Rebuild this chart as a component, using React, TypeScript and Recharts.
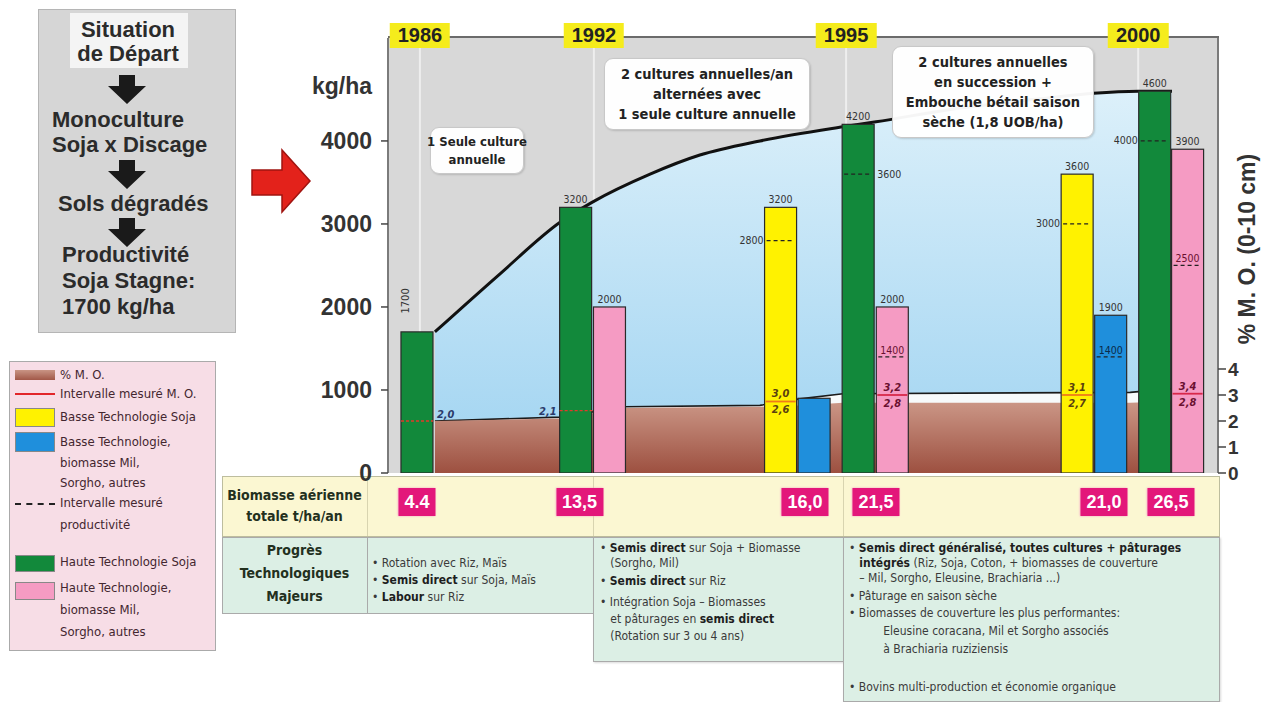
import React from 'react';
import { ComposedChart, Bar, Area, XAxis, YAxis, CartesianGrid } from 'recharts';

// ---------------- DATA ----------------
// period headers and their position on the horizontal "slot" axis (0..26)
const periodYears = ['1986', '1992', '1995', '2000'];
const periodSlots = [1.0, 6.45, 14.35, 23.5];

// bars (kg/ha)
const barSlots = [0.92, 5.89, 6.95, 12.31, 13.36, 14.74, 15.81, 21.6, 22.65, 24.03, 25.06];
const barKinds = ['hts', 'hts', 'htb', 'bts', 'btb', 'hts', 'htb', 'bts', 'btb', 'hts', 'htb'];
const barValues = [1700, 3200, 2000, 3200, 900, 4200, 2000, 3600, 1900, 4600, 3900];
const barTopLabels = ['1700', '3200', '2000', '3200', '', '4200', '2000', '3600', '1900', '4600', '3900'];
// productivity interval (lower measured value, kg/ha)
const barProdLow: (number | null)[] = [null, null, null, 2800, null, 3600, 1400, 3000, 1400, 4000, 2500];
// organic matter (% M.O.) measured inside each bar
const barMoHigh: (number | null)[] = [2.0, 2.1, null, 3.0, null, null, 3.2, 3.1, null, null, 3.4];
const barMoLow: (number | null)[] = [null, null, null, 2.6, null, null, 2.8, 2.7, null, null, 2.8];
const barMoLine: (number | null)[] = [2.0, 2.4, null, 2.75, null, null, 3.0, 3.0, null, null, 3.05];

// yield trend curve (kg/ha)
const trendSlots = [1.47, 3.51, 5.39, 6.39, 8.21, 9.77, 11.65, 14.25, 15.29, 17.61, 20.74, 22.1, 23.5, 24.56];
const trendKg = [1700, 2400, 3020, 3260, 3600, 3830, 4000, 4170, 4230, 4380, 4520, 4575, 4600, 4600];

// soil organic matter (% M.O. 0-10 cm): measured low and high
const moSlots = [1.47, 5.39, 7.42, 11.65, 12.9, 14.25, 23.25, 25.53];
const moLowVals = [2.0, 2.1, 2.5, 2.55, 2.6, 2.7, 2.7, 2.8];
const moHighVals = [2.0, 2.15, 2.55, 2.6, 2.85, 3.05, 3.1, 3.35];

// biomass row (t/ha/an)
const biomassLabels = ['4.4', '13,5', '16,0', '21,5', '21,0', '26,5'];
const biomassSlots = [0.91, 6.0, 13.06, 15.29, 22.43, 24.53];

const kgTicks = [0, 1000, 2000, 3000, 4000];
const moTicks = [0, 1, 2, 3, 4];

// ---------------- STYLE / LAYOUT ----------------
const KG_MAX = 5240;
const MO_MAX = 16.73;
const SLOT_MAX = 26;
const BAR_W = 32;
const PLOT_X0 = 388;
const PLOT_W = 830;
const px = (slot: number) => PLOT_X0 + (slot / SLOT_MAX) * PLOT_W;

const SANS = '"Liberation Sans", Arial, Helvetica, sans-serif';
const NARROW = '"Liberation Sans Narrow", "DejaVu Sans Condensed", "Arial Narrow", "Liberation Sans", sans-serif';

const KIND_STYLE: Record<string, { fill: string; line: string; text: string }> = {
  hts: { fill: '#12893b', line: '#e23a2a', text: '#2a3a5a' },
  htb: { fill: '#f59bc3', line: '#d8284a', text: '#6a1030' },
  bts: { fill: '#fff200', line: '#f07a1a', text: '#5a4010' },
  btb: { fill: '#1f8fdc', line: '#1f8fdc', text: '#0a2a4a' },
};
const PROD_SIDE = ['', '', '', 'left', '', 'right', 'inside', 'left', 'inside', 'left', 'inside'];
const MO_SIDE = ['right', 'left', '', 'inside', '', '', 'inside', 'inside', '', '', 'inside'];

type Row = { pos: number; kg?: number; idx?: number; trend?: number; moLow?: number; moHigh?: number };
const rowMap = new Map<number, Row>();
const getRow = (pos: number) => {
  if (!rowMap.has(pos)) rowMap.set(pos, { pos });
  return rowMap.get(pos) as Row;
};
barSlots.forEach((p, i) => { const r = getRow(p); r.kg = barValues[i]; r.idx = i; });
trendSlots.forEach((p, i) => { getRow(p).trend = trendKg[i]; });
moSlots.forEach((p, i) => { const r = getRow(p); r.moLow = moLowVals[i]; r.moHigh = moHighVals[i]; });
const rows = Array.from(rowMap.values()).sort((a, b) => a.pos - b.pos);

function BarShape(props: any) {
  const { x, y, width, height, payload } = props;
  if (!payload || payload.idx == null || !isFinite(y) || !isFinite(height) || height <= 0) return <g />;
  const i = payload.idx as number;
  const cx = x + width / 2;
  const left = cx - BAR_W / 2;
  const right = cx + BAR_W / 2;
  const base = y + height;
  const pxPerKg = height / barValues[i];
  const kgY = (v: number) => base - v * pxPerKg;
  const moY = (v: number) => base - v * pxPerKg * (KG_MAX / MO_MAX);
  const st = KIND_STYLE[barKinds[i]];
  const small = { fontFamily: NARROW, fontSize: 10.5, fill: '#333' } as any;
  const out: any[] = [];
  out.push(<rect key="r" x={left} y={y} width={BAR_W} height={height} fill={st.fill} stroke="#2a2a2a" strokeWidth={1.2} />);
  const top = barTopLabels[i];
  if (top) {
    if (i === 0) {
      out.push(
        <text key="t" x={cx - 11} y={y - 31} textAnchor="middle" dominantBaseline="central" transform={`rotate(-90 ${cx - 11} ${y - 31})`} {...small} fontSize={11}>{top}</text>
      );
    } else {
      out.push(<text key="t" x={cx} y={y - 4} textAnchor="middle" {...small}>{top}</text>);
    }
  }
  const pl = barProdLow[i];
  if (pl != null) {
    const py = kgY(pl);
    out.push(<line key="pl" x1={left + 2} x2={right - 2} y1={py} y2={py} stroke="#222" strokeWidth={1.2} strokeDasharray="4 3" />);
    const side = PROD_SIDE[i];
    if (side === 'left') out.push(<text key="plt" x={left - 1} y={py + 3.5} textAnchor="end" {...small}>{pl}</text>);
    else if (side === 'right') out.push(<text key="plt" x={right + 3} y={py + 3.5} textAnchor="start" {...small}>{pl}</text>);
    else out.push(<text key="plt" x={cx} y={py - 3} textAnchor="middle" {...small} fill={st.text}>{pl}</text>);
  }
  const ml = barMoLine[i];
  if (ml != null) {
    const my = moY(ml);
    const side = MO_SIDE[i];
    const mh = barMoHigh[i];
    const mlo = barMoLow[i];
    const fmt = (v: number) => v.toFixed(1).replace('.', ',');
    const moText = { fontFamily: NARROW, fontSize: 11, fontWeight: 700, fontStyle: 'italic', fill: st.text } as any;
    if (side === 'inside') {
      out.push(<line key="ml" x1={left + 1} x2={right - 1} y1={my} y2={my} stroke={st.line} strokeWidth={1.8} />);
      if (mh != null) out.push(<text key="mh" x={cx} y={my - 4} textAnchor="middle" {...moText}>{fmt(mh)}</text>);
      if (mlo != null) out.push(<text key="mlo" x={cx} y={my + 12} textAnchor="middle" {...moText}>{fmt(mlo)}</text>);
    } else {
      out.push(<line key="ml" x1={left} x2={right + (side === 'left' ? 6 : 0)} y1={my} y2={my} stroke={st.line} strokeWidth={1.4} strokeDasharray="3 2" />);
      if (mh != null) {
        const ly = moY(mh) - 3;
        if (side === 'right') out.push(<text key="mh" x={right + 4} y={ly} textAnchor="start" {...moText} fill="#2a3a6a">{fmt(mh)}</text>);
        else out.push(<text key="mh" x={left - 3} y={ly} textAnchor="end" {...moText} fill="#2a3a6a">{fmt(mh)}</text>);
      }
    }
  }
  return <g>{out}</g>;
}

function DownArrow({ cx, top }: { cx: number; top: number }) {
  return (
    <svg style={{ position: 'absolute', left: cx - 19, top }} width={38} height={29}>
      <polygon points="11,0 27,0 27,11 38,11 19,29 0,11 11,11" fill="#1a1a1a" />
    </svg>
  );
}

function Flowchart() {
  const t = (text: string, left: number | null, baseline: number, key: string) => (
    <div key={key} style={{
      position: 'absolute', top: baseline - 19, left: left == null ? 38 : left, width: left == null ? 180 : undefined,
      textAlign: left == null ? 'center' : 'left', fontFamily: SANS, fontWeight: 700, fontSize: 22, lineHeight: '22px',
      color: '#2b2b2b', whiteSpace: 'nowrap',
    }}>{text}</div>
  );
  return (
    <>
      <div style={{ position: 'absolute', left: 38, top: 9, width: 196, height: 322, background: '#d6d6d6', border: '1px solid #b5b5b5' }} />
      <div style={{ position: 'absolute', left: 70, top: 13, width: 118, height: 55, background: '#f4f4f4' }} />
      {t('Situation', null, 38, 'a')}
      {t('de Départ', null, 62, 'b')}
      <DownArrow cx={127} top={75} />
      {t('Monoculture', 52, 128, 'c')}
      {t('Soja x Discage', 52, 153, 'd')}
      <DownArrow cx={127} top={160} />
      {t('Sols dégradés', 58, 212, 'e')}
      <DownArrow cx={127} top={218} />
      {t('Productivité', 62, 263, 'f')}
      {t('Soja Stagne:', 62, 289, 'g')}
      {t('1700 kg/ha', 62, 315, 'h')}
    </>
  );
}

function RedArrow() {
  return (
    <svg style={{ position: 'absolute', left: 248, top: 148 }} width={66} height={68}>
      <polygon points="4,22 34,22 34,2 62,33 34,64 34,47 4,47" fill="#e3221b" stroke="#a01410" strokeWidth={1.5} />
    </svg>
  );
}

const legendItems = [
  { sw: 'brown', lines: ['% M. O.'] },
  { sw: 'red', lines: ['Intervalle mesuré M. O.'] },
  { sw: 'bts', lines: ['Basse Technologie Soja'] },
  { sw: 'btb', lines: ['Basse Technologie,', 'biomasse Mil,', 'Sorgho, autres'] },
  { sw: 'dash', lines: ['Intervalle mesuré', 'productivité'] },
  { sw: 'hts', lines: ['Haute Technologie Soja'] },
  { sw: 'htb', lines: ['Haute Technologie,', 'biomasse Mil,', 'Sorgho, autres'] },
];
// vertical centres of the legend text lines / swatches (layout)
const LEGEND_LINE_Y = [[375], [394], [417], [442, 463, 483], [503, 525], [562], [588, 610, 632]];
const LEGEND_SW = [[370, 10], [393, 2], [408, 19], [432, 20], [503, 0], [555, 17], [582, 18]];

function Legend() {
  const items: any[] = [];
  legendItems.forEach((it, k) => {
    const [sy, sh] = LEGEND_SW[k];
    let sw: any;
    if (it.sw === 'brown') sw = <div style={{ width: 40, height: sh, background: 'linear-gradient(#c99484,#a25848)' }} />;
    else if (it.sw === 'red') sw = <div style={{ width: 40, height: 2, background: '#e2262a' }} />;
    else if (it.sw === 'dash') sw = <div style={{ width: 40, height: 0, borderTop: '2px dashed #222' }} />;
    else sw = <div style={{ width: 40, height: sh, background: KIND_STYLE[it.sw].fill, border: '1px solid #888', boxSizing: 'border-box' }} />;
    items.push(<div key={'s' + k} style={{ position: 'absolute', left: 15, top: sy, display: 'flex' }}>{sw}</div>);
    it.lines.forEach((ln, j) => {
      items.push(
        <div key={'t' + k + '_' + j} style={{ position: 'absolute', left: 60, top: LEGEND_LINE_Y[k][j] - 9, fontFamily: NARROW, fontSize: 13, lineHeight: '18px', color: '#43262f', whiteSpace: 'nowrap' }}>{ln}</div>
      );
    });
  });
  return (
    <>
      <div style={{ position: 'absolute', left: 9, top: 361, width: 205, height: 288, background: '#f7dde6', border: '1px solid #aaa' }} />
      {items}
    </>
  );
}

function PlotNotes() {
  const box = (left: number, top: number, w: number, h: number, lines: string[], fs: number, lh: number, key: string) => (
    <div key={key} style={{
      position: 'absolute', left, top, width: w, height: h, background: 'rgba(255,255,255,0.96)', border: '1px solid #c8c8c8',
      borderRadius: 9, boxShadow: '1px 1px 2px rgba(0,0,0,0.15)', display: 'flex', flexDirection: 'column', justifyContent: 'center',
      alignItems: 'center', fontFamily: NARROW, fontWeight: 700, fontSize: fs, lineHeight: lh + 'px', color: '#222', textAlign: 'center',
    }}>
      {lines.map((l, i) => <div key={i} style={{ whiteSpace: 'nowrap' }}>{l}</div>)}
    </div>
  );
  return (
    <>
      {box(430, 127, 92, 45, ['1 Seule culture', 'annuelle'], 13, 18, 'b1')}
      {box(604, 58, 204, 70, ['2 cultures annuelles/an', 'alternées avec', '1 seule culture annuelle'], 14.5, 20, 'b2')}
      {box(892, 46, 200, 90, ['2 cultures annuelles', 'en succession +', 'Embouche bétail saison', 'sèche (1,8 UOB/ha)'], 14.5, 20, 'b3')}
    </>
  );
}

function YearHeaders() {
  return (
    <>
      <div style={{ position: 'absolute', left: 388, top: 36, width: 831, height: 2, background: '#6b6b6b' }} />
      {periodYears.map((yr, i) => (
        <div key={yr} style={{
          position: 'absolute', left: px(periodSlots[i]), top: 23, transform: 'translateX(-50%)', height: 25, lineHeight: '25px',
          padding: '0 8px', background: '#f5ec1c', fontFamily: SANS, fontWeight: 700, fontSize: 20, color: '#222',
        }}>{yr}</div>
      ))}
    </>
  );
}

const col1 = [
  [['• Rotation avec Riz, Maïs', false]],
  [['• ', false], ['Semis direct', true], [' sur Soja, Maïs', false]],
  [['• ', false], ['Labour', true], [' sur Riz', false]],
];
const col2 = [
  [['• ', false], ['Semis direct', true], [' sur Soja + Biomasse', false]],
  [['   (Sorgho, Mil)', false]],
  [['• ', false], ['Semis direct', true], [' sur Riz', false]],
  [['• Intégration Soja – Biomasses', false]],
  [['   et pâturages en ', false], ['semis direct', true]],
  [['   (Rotation sur 3 ou 4 ans)', false]],
];
const col3 = [
  [['• ', false], ['Semis direct généralisé, toutes cultures + pâturages', true]],
  [['   ', false], ['intégrés', true], [' (Riz, Soja, Coton, + biomasses de couverture', false]],
  [['   – Mil, Sorgho, Eleusine, Brachiaria ...)', false]],
  [['• Pâturage en saison sèche', false]],
  [['• Biomasses de couverture les plus performantes:', false]],
  [['          Eleusine coracana, Mil et Sorgho associés', false]],
  [['          à Brachiaria ruziziensis', false]],
  [['• Bovins multi-production et économie organique', false]],
];

function TextCol({ lines, left, tops }: { lines: any[]; left: number; tops: number[] }) {
  return (
    <>
      {lines.map((ln, i) => (
        <div key={i} style={{ position: 'absolute', left, top: tops[i], fontFamily: NARROW, fontSize: 12, lineHeight: '15px', color: '#3a3a3a', whiteSpace: 'pre' }}>
          {ln.map((seg: any, j: number) => <span key={j} style={{ fontWeight: seg[1] ? 700 : 400, color: seg[1] ? '#1e1e1e' : '#3a3a3a' }}>{seg[0]}</span>)}
        </div>
      ))}
    </>
  );
}

function Table() {
  const lbl = { position: 'absolute', fontFamily: NARROW, fontWeight: 700, fontSize: 14, lineHeight: '22px', color: '#23301e', textAlign: 'center', width: 145, left: 222 } as any;
  return (
    <>
      <div style={{ position: 'absolute', left: 222, top: 476, width: 996, height: 59, background: '#fbf7d2', border: '1px solid #bdbd9e' }} />
      {[367, 593, 843].map((x) => <div key={x} style={{ position: 'absolute', left: x, top: 477, width: 1, height: 59, background: '#d8d4b0' }} />)}
      <div style={{ ...lbl, top: 484 }}>Biomasse aérienne</div>
      <div style={{ ...lbl, top: 505 }}>totale t/ha/an</div>
      {biomassLabels.map((b, i) => (
        <div key={b + i} style={{
          position: 'absolute', left: px(biomassSlots[i]), top: 488, transform: 'translateX(-50%)', height: 28, lineHeight: '28px',
          padding: '0 6px', background: '#e3177a', color: '#fff', fontFamily: SANS, fontWeight: 700, fontSize: 18, boxShadow: '0 0 2px #f6a0c8',
        }}>{b}</div>
      ))}
      <div style={{ position: 'absolute', left: 222, top: 537, width: 371, height: 75, background: '#dcefe5', border: '1px solid #aaa' }} />
      <div style={{ position: 'absolute', left: 367, top: 538, width: 1, height: 75, background: '#aaa' }} />
      <div style={{ position: 'absolute', left: 593, top: 537, width: 250, height: 123, background: '#dcefe5', border: '1px solid #aaa', boxShadow: '1px 1px 2px rgba(0,0,0,0.15)' }} />
      <div style={{ position: 'absolute', left: 843, top: 537, width: 375, height: 163, background: '#dcefe5', border: '1px solid #aaa', boxShadow: '1px 1px 2px rgba(0,0,0,0.15)' }} />
      <div style={{ ...lbl, top: 539 }}>Progrès</div>
      <div style={{ ...lbl, top: 562 }}>Technologiques</div>
      <div style={{ ...lbl, top: 585 }}>Majeurs</div>
      <TextCol lines={col1} left={372} tops={[556, 573, 590]} />
      <TextCol lines={col2} left={600} tops={[541, 556, 574, 595, 612, 629]} />
      <TextCol lines={col3} left={849} tops={[541, 556, 571, 589, 606, 624, 642, 680]} />
    </>
  );
}

export default function App() {
  return (
    <div style={{ position: 'relative', width: 1265, height: 702, background: '#fff', overflow: 'hidden', fontFamily: SANS }}>
      <style>{'html,body{margin:0;padding:0;background:#fff}'}</style>
      <Flowchart />
      <RedArrow />
      <Legend />
      <Table />
      <div style={{ position: 'absolute', left: 300, top: 0 }}>
        <ComposedChart width={965} height={500} data={rows} margin={{ top: 38, right: 0, bottom: 27, left: 0 }}>
          <defs>
            <linearGradient id="blueGrad" x1="0" y1="0" x2="0" y2="1">
              <stop offset="0%" stopColor="#dcf0fa" />
              <stop offset="100%" stopColor="#9fd3f1" />
            </linearGradient>
            <linearGradient id="brownGrad" x1="0" y1="0" x2="0" y2="1">
              <stop offset="0%" stopColor="#cc9888" />
              <stop offset="100%" stopColor="#9d5040" />
            </linearGradient>
          </defs>
          <CartesianGrid horizontal={false} vertical fill="#d8d8d8" fillOpacity={1} stroke="#eeeeee" strokeWidth={2} />
          <XAxis type="number" dataKey="pos" domain={[0, SLOT_MAX]} ticks={periodSlots} allowDataOverflow hide height={0} />
          <YAxis yAxisId="kg" domain={[0, KG_MAX]} ticks={kgTicks} width={88} allowDataOverflow interval={0}
            tick={{ fill: '#333', fontSize: 23, fontWeight: 700, fontFamily: SANS }} tickSize={7} tickMargin={9}
            axisLine={{ stroke: '#555', strokeWidth: 1.5 }} tickLine={{ stroke: '#444', strokeWidth: 1.5 }} />
          <YAxis yAxisId="mo" orientation="right" domain={[0, MO_MAX]} ticks={moTicks} width={47} allowDataOverflow interval={0}
            tick={{ fill: '#333', fontSize: 19, fontWeight: 700, fontFamily: SANS }} tickSize={8} tickMargin={2}
            axisLine={{ stroke: '#555', strokeWidth: 1.5 }} tickLine={{ stroke: '#444', strokeWidth: 1.5 }} />
          <Area yAxisId="kg" dataKey="trend" type="monotone" connectNulls fill="url(#blueGrad)" fillOpacity={1} stroke="#111" strokeWidth={3} dot={false} activeDot={false} isAnimationActive={false} />
          <Area yAxisId="mo" dataKey="moHigh" type="linear" connectNulls fill="#f7fafb" fillOpacity={1} stroke="#1a1a1a" strokeWidth={1.6} dot={false} activeDot={false} isAnimationActive={false} />
          <Area yAxisId="mo" dataKey="moLow" type="linear" connectNulls fill="url(#brownGrad)" fillOpacity={1} stroke="none" dot={false} activeDot={false} isAnimationActive={false} />
          <Bar yAxisId="kg" dataKey="kg" barSize={BAR_W} shape={(p: any) => <BarShape {...p} />} isAnimationActive={false} />
        </ComposedChart>
      </div>
      <YearHeaders />
      <PlotNotes />
      <div style={{ position: 'absolute', left: 312, top: 74, fontFamily: SANS, fontWeight: 700, fontSize: 23, lineHeight: '24px', color: '#333' }}>kg/ha</div>
      <div style={{ position: 'absolute', left: 1247, top: 249, transform: 'translate(-50%,-50%) rotate(-90deg)', whiteSpace: 'nowrap', fontFamily: SANS, fontWeight: 700, fontSize: 23, color: '#333' }}>% M. O. (0-10 cm)</div>
    </div>
  );
}
